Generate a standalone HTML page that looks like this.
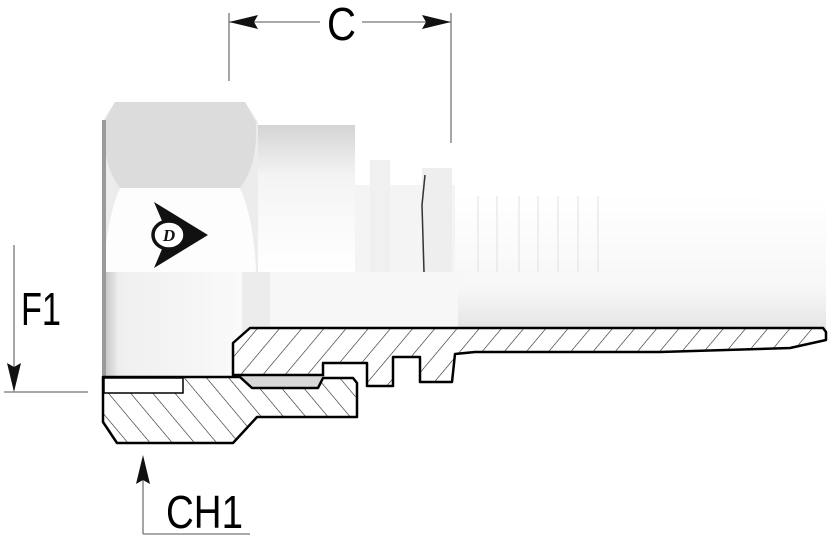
<!DOCTYPE html>
<html><head><meta charset="utf-8"><style>html,body{margin:0;padding:0;background:#fff}svg{display:block}</style></head>
<body>
<svg width="830" height="539" viewBox="0 0 830 539" xmlns="http://www.w3.org/2000/svg">
<defs>
<pattern id="h1" patternUnits="userSpaceOnUse" width="17" height="17" patternTransform="rotate(40)">
<line x1="0" y1="0" x2="0" y2="17" stroke="#222" stroke-width="1.2"/></pattern>
<pattern id="h2" patternUnits="userSpaceOnUse" width="17" height="17" patternTransform="rotate(-40)">
<line x1="0" y1="0" x2="0" y2="17" stroke="#222" stroke-width="1.2"/></pattern>
<linearGradient id="gv" x1="0" y1="0" x2="0" y2="1">
<stop offset="0" stop-color="#d4d4d4"/><stop offset="0.35" stop-color="#f4f4f4"/><stop offset="1" stop-color="#fff"/></linearGradient>
<linearGradient id="gl" x1="0" y1="0" x2="1" y2="0">
<stop offset="0" stop-color="#bdbdbd"/><stop offset="0.12" stop-color="#efefef"/><stop offset="1" stop-color="#fafafa"/></linearGradient>
<linearGradient id="gb" x1="0" y1="0" x2="0" y2="1">
<stop offset="0" stop-color="#fff"/><stop offset="0.7" stop-color="#f7f7f7"/><stop offset="1" stop-color="#e4e4e4"/></linearGradient>
</defs>

<path d="M450,193 L600,193 L700,196 L800,198 L826,203 L826,330 L450,330 Z" fill="url(#gb)"/>
<g stroke="#e0e0e0" stroke-width="1">
<line x1="478" y1="196" x2="478" y2="272"/><line x1="497" y1="196" x2="497" y2="272"/>
<line x1="519" y1="196" x2="519" y2="272"/><line x1="538" y1="196" x2="538" y2="272"/>
<line x1="558" y1="196" x2="558" y2="272"/><line x1="578" y1="196" x2="578" y2="272"/>
<line x1="598" y1="196" x2="598" y2="272"/></g>
<rect x="355" y="185" width="100" height="145" fill="#f4f4f4"/>
<rect x="370" y="160" width="20" height="112" fill="#f0f0f0"/>
<rect x="422" y="168" width="30" height="104" fill="#eeeeee"/>
<path d="M425,175 L422,205 L424,272" stroke="#333" stroke-width="1.5" fill="none"/>
<rect x="258" y="125" width="97" height="147" fill="url(#gv)"/>
<rect x="258" y="272" width="200" height="58" fill="#f7f7f7"/>
<rect x="258" y="272" width="12" height="90" fill="#ececec"/>
<!-- nut -->
<path d="M102,122 L115,102 L245,102 L258,122 L258,385 L102,385 Z" fill="#ececec"/>
<path d="M120,188 L240,188 Q254,220 256,272 L104,272 Q106,220 120,188 Z" fill="#fdfdfd"/>
<path d="M104,122 L115,102 L245,102 L256,122 Q258,165 240,188 L120,188 Q102,165 104,122 Z" fill="#dcdcdc"/>
<rect x="102" y="272" width="140" height="108" fill="url(#gl)"/>
<rect x="102" y="120" width="4" height="265" fill="#9a9a9a"/>
<g>
<path d="M154,202 L208,235 L154,268 L168,235 Z" fill="#111"/>
<ellipse cx="169" cy="235" rx="16" ry="14" fill="#fff" stroke="#111" stroke-width="3.5"/>
<text x="169" y="241" font-family="Liberation Serif, serif" font-weight="bold" font-style="italic" font-size="17" text-anchor="middle" fill="#111">D</text>
</g>

<rect x="240" y="375" width="85" height="14" fill="#d8d8d8"/>
<path d="M233,375 L233,343 L250,328 L823,328 L826,332 L826,340 L790,348 L660,352 L475,352 L455,354 L452,382 L420,382 L420,357 L393,357 L393,386 L367,386 L367,363 L323,363 L323,375 Z" fill="#fff"/>
<path d="M233,375 L233,343 L250,328 L823,328 L826,332 L826,340 L790,348 L660,352 L475,352 L455,354 L452,382 L420,382 L420,357 L393,357 L393,386 L367,386 L367,363 L323,363 L323,375 Z" fill="url(#h1)" stroke="#000" stroke-width="2.5" stroke-linejoin="round"/>
<path d="M103,377 L240,377 L252,388 L318,388 L323,378 L353,378 L357,383 L357,417 L257,417 L233,443 L117,443 L103,422 Z" fill="#fff"/>
<path d="M103,377 L240,377 L252,388 L318,388 L323,378 L353,378 L357,383 L357,417 L257,417 L233,443 L117,443 L103,422 Z" fill="url(#h2)" stroke="#000" stroke-width="2.5" stroke-linejoin="round"/>
<rect x="104" y="378" width="79" height="15" fill="#fff" stroke="#000" stroke-width="1.5"/>

<g stroke="#777" stroke-width="1.3">
<line x1="229" y1="13" x2="229" y2="81"/><line x1="451" y1="13" x2="451" y2="143"/>
<line x1="229" y1="22" x2="320" y2="22"/><line x1="362" y1="22" x2="451" y2="22"/>
<line x1="14" y1="245" x2="14" y2="390"/><line x1="4" y1="392" x2="88" y2="392"/>
<line x1="143" y1="470" x2="143" y2="534"/><line x1="143" y1="534" x2="250" y2="534"/>
</g>
<path d="M229,22 L258,15 L254,22 L258,29 Z" fill="#111"/>
<path d="M451,22 L422,15 L426,22 L422,29 Z" fill="#111"/>
<path d="M14,392 L7,363 L14,367 L21,363 Z" fill="#111"/>
<path d="M143,455 L136,484 L143,480 L150,484 Z" fill="#111"/>
<g font-family="Liberation Sans, sans-serif" font-size="46" fill="#000">
<text x="327" y="40" textLength="29" lengthAdjust="spacingAndGlyphs">C</text>
<text x="21" y="325" textLength="40" lengthAdjust="spacingAndGlyphs">F1</text>
<text x="166" y="528" textLength="77" lengthAdjust="spacingAndGlyphs">CH1</text>
</g>
</svg>
</body></html>
